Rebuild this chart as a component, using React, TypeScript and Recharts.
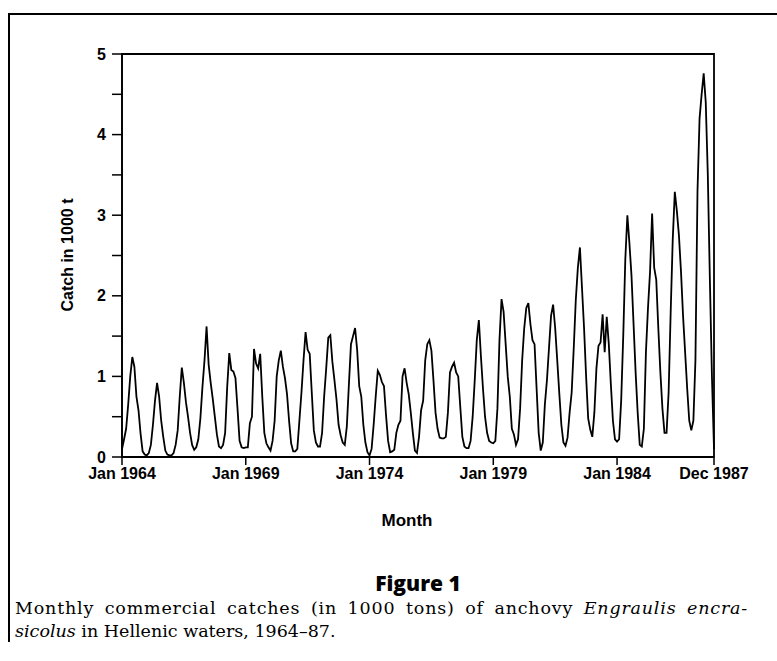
import React from 'react';
import { LineChart, Line, XAxis, YAxis, ReferenceArea } from 'recharts';

// monthly anchovy catch (1000 t), Jan..Dec
const catch1964 = [0.1, 0.22, 0.35, 0.65, 1.0, 1.24, 1.12, 0.75, 0.58, 0.29, 0.07, 0.03];
const catch1965 = [0.02, 0.05, 0.15, 0.4, 0.7, 0.92, 0.75, 0.45, 0.25, 0.08, 0.03, 0.02];
const catch1966 = [0.02, 0.05, 0.15, 0.33, 0.75, 1.11, 0.92, 0.68, 0.5, 0.3, 0.15, 0.09];
const catch1967 = [0.12, 0.22, 0.48, 0.87, 1.2, 1.62, 1.15, 0.92, 0.72, 0.5, 0.28, 0.13];
const catch1968 = [0.11, 0.15, 0.3, 0.87, 1.29, 1.08, 1.06, 0.98, 0.6, 0.2, 0.12, 0.11];
const catch1969 = [0.12, 0.12, 0.42, 0.5, 1.34, 1.16, 1.1, 1.28, 0.75, 0.3, 0.17, 0.12];
const catch1970 = [0.08, 0.2, 0.45, 1.0, 1.2, 1.32, 1.12, 0.98, 0.78, 0.45, 0.17, 0.07];
const catch1971 = [0.07, 0.1, 0.45, 0.8, 1.2, 1.55, 1.33, 1.28, 0.8, 0.33, 0.18, 0.13];
const catch1972 = [0.13, 0.3, 0.75, 1.1, 1.48, 1.51, 1.18, 0.95, 0.71, 0.4, 0.27, 0.18];
const catch1973 = [0.15, 0.38, 0.9, 1.4, 1.5, 1.6, 1.33, 0.88, 0.75, 0.4, 0.18, 0.06];
const catch1974 = [0.02, 0.1, 0.4, 0.75, 1.07, 1.02, 0.93, 0.88, 0.52, 0.2, 0.06, 0.07];
const catch1975 = [0.09, 0.3, 0.4, 0.45, 1.0, 1.1, 0.92, 0.78, 0.55, 0.3, 0.08, 0.05];
const catch1976 = [0.25, 0.58, 0.7, 1.2, 1.4, 1.45, 1.32, 0.95, 0.55, 0.35, 0.24, 0.23];
const catch1977 = [0.23, 0.25, 0.55, 1.05, 1.12, 1.17, 1.05, 1.0, 0.62, 0.25, 0.13, 0.11];
const catch1978 = [0.11, 0.2, 0.5, 0.95, 1.45, 1.7, 1.25, 0.85, 0.5, 0.3, 0.2, 0.18];
const catch1979 = [0.17, 0.2, 0.6, 1.45, 1.96, 1.8, 1.4, 1.0, 0.75, 0.35, 0.28, 0.15];
const catch1980 = [0.22, 0.6, 1.2, 1.6, 1.85, 1.91, 1.65, 1.45, 1.4, 0.85, 0.3, 0.08];
const catch1981 = [0.18, 0.65, 0.95, 1.35, 1.75, 1.89, 1.6, 1.2, 0.79, 0.4, 0.18, 0.14];
const catch1982 = [0.24, 0.55, 0.8, 1.35, 1.95, 2.35, 2.6, 2.1, 1.6, 1.0, 0.48, 0.34];
const catch1983 = [0.25, 0.55, 1.1, 1.38, 1.42, 1.77, 1.3, 1.74, 1.4, 0.9, 0.45, 0.22];
const catch1984 = [0.19, 0.22, 0.7, 1.5, 2.45, 3.0, 2.65, 2.25, 1.65, 1.05, 0.55, 0.15];
const catch1985 = [0.13, 0.35, 1.3, 1.85, 2.3, 3.02, 2.35, 2.2, 1.6, 1.05, 0.6, 0.3];
const catch1986 = [0.3, 0.8, 1.8, 2.7, 3.29, 3.05, 2.75, 2.3, 1.75, 1.3, 0.85, 0.45];
const catch1987 = [0.33, 0.45, 1.2, 3.3, 4.2, 4.5, 4.76, 4.4, 3.5, 2.2, 1.0, 0.1];

const YEARS = [
  catch1964, catch1965, catch1966, catch1967, catch1968, catch1969,
  catch1970, catch1971, catch1972, catch1973, catch1974, catch1975,
  catch1976, catch1977, catch1978, catch1979, catch1980, catch1981,
  catch1982, catch1983, catch1984, catch1985, catch1986, catch1987
];

const X_TICKS = [0, 60, 120, 180, 240, 287];
const X_LABELS = ['Jan 1964', 'Jan 1969', 'Jan 1974', 'Jan 1979', 'Jan 1984', 'Dec 1987'];
const Y_TICKS = [0, 0.5, 1, 1.5, 2, 2.5, 3, 3.5, 4, 4.5, 5];

const data = YEARS.flatMap((months, y) =>
  months.map((v, i) => ({ month: y * 12 + i, catch: v }))
);

const sans = '"Liberation Sans", Arial, sans-serif';
const serif = '"DejaVu Serif", "Liberation Serif", serif';

export default function App() {
  return (
    <div style={{ position: 'absolute', left: 0, top: 0, width: 777, height: 661, background: '#fff' }}>
      {/* outer figure frame (top + left only) */}
      <div style={{ position: 'absolute', left: 8, top: 13, width: 769, height: 627, borderTop: '2px solid #000', borderLeft: '2px solid #000' }} />

      <div style={{ position: 'absolute', left: 0, top: 0 }}>
        <LineChart width={777} height={500} data={data} margin={{ top: 54, right: 63, bottom: 3, left: 60 }}>
          <XAxis
            dataKey="month"
            type="number"
            domain={[0, 287]}
            ticks={X_TICKS}
            tickFormatter={(v: number) => X_LABELS[X_TICKS.indexOf(v)] ?? ''}
            height={40}
            tickSize={8}
            tickMargin={3}
            interval={0}
            axisLine={{ stroke: '#000', strokeWidth: 1.5 }}
            tickLine={{ stroke: '#000', strokeWidth: 1.5 }}
            tick={{ fill: '#000', fontSize: 16, fontWeight: 700, fontFamily: sans }}
          />
          <YAxis
            type="number"
            domain={[0, 5]}
            ticks={Y_TICKS}
            interval={0}
            tickFormatter={(v: number) => (Number.isInteger(v) ? String(v) : '')}
            width={62}
            tickSize={10}
            tickMargin={6}
            axisLine={{ stroke: '#000', strokeWidth: 1.5 }}
            tickLine={{ stroke: '#000', strokeWidth: 1.5 }}
            tick={{ fill: '#000', fontSize: 16, fontWeight: 700, fontFamily: sans }}
          />
          <ReferenceArea x1={0} x2={287} y1={0} y2={5} fill="none" stroke="#000" strokeWidth={1.8} ifOverflow="visible" />
          <Line
            type="linear"
            dataKey="catch"
            stroke="#000"
            strokeWidth={1.8}
            dot={false}
            isAnimationActive={false}
          />
        </LineChart>
      </div>

      {/* y axis title */}
      <div
        style={{
          position: 'absolute', left: 68 - 100, top: 255 - 10, width: 200, height: 20,
          textAlign: 'center', transform: 'rotate(-90deg)', fontFamily: sans, fontWeight: 700, fontSize: 16, lineHeight: '20px'
        }}
      >
        Catch in 1000 t
      </div>

      {/* x axis title */}
      <div style={{ position: 'absolute', left: 307, top: 511, width: 200, textAlign: 'center', fontFamily: sans, fontWeight: 700, fontSize: 17 }}>
        Month
      </div>

      <div style={{ position: 'absolute', left: 318, top: 570, width: 200, textAlign: 'center', fontFamily: '"Open Sans", sans-serif', fontWeight: 800, fontSize: 21, lineHeight: '26px' }}>
        Figure 1
      </div>

      <div style={{ position: 'absolute', left: 15, top: 597, fontFamily: serif, fontSize: 17.5, lineHeight: '23px', color: '#000', whiteSpace: 'nowrap' }}>
        <div style={{ width: 733, letterSpacing: 0.8, textAlign: 'justify', textAlignLast: 'justify' }}>
          Monthly commercial catches (in 1000 tons) of anchovy <i>Engraulis encra-</i>
        </div>
        <div>
          <i>sicolus</i> in Hellenic waters, 1964–87.
        </div>
      </div>
    </div>
  );
}
